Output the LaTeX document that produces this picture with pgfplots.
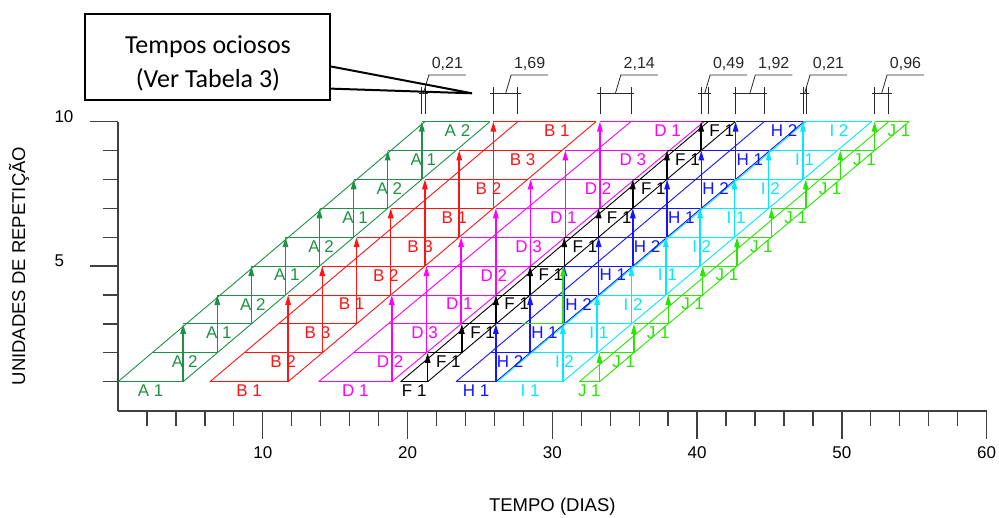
\documentclass[border=0pt]{standalone}
\usepackage{pgfplots}
\pgfplotsset{compat=1.18}
\usepackage{pgfplotstable}
\usepackage{fontspec}
\setmainfont{Liberation Sans}
\newfontfamily\calibri{Carlito}
\usetikzlibrary{arrows.meta}

\definecolor{cA}{RGB}{30,145,70}
\definecolor{cB}{RGB}{255,20,20}
\definecolor{cD}{RGB}{255,0,255}
\definecolor{cF}{RGB}{0,0,0}
\definecolor{cH}{RGB}{20,20,255}
\definecolor{cI}{RGB}{0,235,255}
\definecolor{cJ}{RGB}{40,230,0}
\definecolor{dimc}{RGB}{40,40,40}

\newcommand\labf{\fontsize{17}{20}\selectfont}
\newcommand\tickf{\fontsize{17}{20}\selectfont}
\newcommand\axf{\fontsize{18.5}{22}\selectfont}
\newcommand\dimf{\fontsize{16}{19}\selectfont}
\newcommand\boxf{\calibri\fontsize{26}{30}\selectfont}

% columns: y = unit level, h = start of bar line, w = length, m = label centre, c = crew
\pgfplotstableread{
y h w m c
1 0.00 4.50 2.25 1
2 2.36 4.50 4.61 2
3 4.50 4.71 6.96 1
4 6.86 4.71 9.32 2
5 9.21 4.71 11.67 1
6 11.57 4.71 14.03 2
7 13.92 4.71 16.38 1
8 16.28 4.71 18.74 2
9 18.63 4.71 21.09 1
10 20.99 4.71 23.45 2
}\tabA
\pgfplotstableread{
x y
4.50 1
6.86 2
9.21 3
11.57 4
13.92 5
16.28 6
18.63 7
20.99 8
}\arrA

\pgfplotstableread{
y h w m c
1 6.35 5.40 9.05 1
2 8.71 5.40 11.41 2
3 11.08 5.40 13.78 3
4 11.75 7.09 16.14 1
5 14.11 7.09 18.50 2
6 16.48 7.09 20.87 3
7 18.84 7.09 23.23 1
8 21.20 7.09 25.59 2
9 23.57 7.09 27.95 3
10 25.93 7.09 30.32 1
}\tabB
\pgfplotstableread{
x y
11.75 1
14.11 2
16.48 3
18.84 4
21.20 5
23.57 6
25.93 7
}\arrB

\pgfplotstableread{
y h w m c
1 13.86 5.05 16.39 1
2 16.26 5.05 18.79 2
3 18.65 5.05 21.18 3
4 18.91 7.19 23.58 1
5 21.31 7.19 25.97 2
6 23.70 7.19 28.37 3
7 26.10 7.19 30.77 1
8 28.50 7.19 33.17 2
9 30.90 7.19 35.56 3
10 33.29 7.19 37.96 1
}\tabD
\pgfplotstableread{
x y
18.91 1
21.31 2
23.70 3
26.10 4
28.50 5
30.90 6
33.29 7
}\arrD

\pgfplotstableread{
y h w m c
1 19.52 1.87 20.46 1
2 21.39 2.36 22.82 1
3 23.75 2.36 25.18 1
4 26.11 2.36 27.54 1
5 28.47 2.36 29.90 1
6 30.83 2.37 32.26 1
7 33.20 2.36 34.62 1
8 35.56 2.36 36.98 1
9 37.92 2.36 39.34 1
10 40.28 2.36 41.70 1
}\tabF
\pgfplotstableread{
x y
21.39 1
23.75 2
26.11 3
28.47 4
30.83 5
33.20 6
35.56 7
37.92 8
40.28 9
}\arrF

\pgfplotstableread{
y h w m c
1 23.35 2.75 24.73 1
2 25.72 2.75 27.09 2
3 26.10 4.73 29.46 1
4 28.47 4.73 31.82 2
5 30.83 4.73 34.19 1
6 33.20 4.73 36.55 2
7 35.56 4.73 38.92 1
8 37.93 4.73 41.28 2
9 40.29 4.73 43.65 1
10 42.66 4.73 46.01 2
}\tabH
\pgfplotstableread{
x y
26.10 1
28.47 2
30.83 3
33.20 4
35.56 5
37.93 6
40.29 7
42.66 8
}\arrH

\pgfplotstableread{
y h w m c
1 26.20 4.53 28.47 1
2 28.57 4.53 30.84 2
3 30.73 4.74 33.21 1
4 33.10 4.74 35.58 2
5 35.47 4.74 37.95 1
6 37.84 4.74 40.32 2
7 40.21 4.74 42.69 1
8 42.58 4.74 45.06 2
9 44.95 4.74 47.43 1
10 47.32 4.74 49.80 2
}\tabI
\pgfplotstableread{
x y
30.73 1
33.10 2
35.47 3
37.84 4
40.21 5
42.58 6
44.95 7
47.32 8
}\arrI

\pgfplotstableread{
y h w m c
1 31.86 1.40 32.56 1
2 33.26 2.38 34.94 1
3 35.64 2.37 37.31 1
4 38.01 2.38 39.69 1
5 40.39 2.37 42.06 1
6 42.76 2.38 44.44 1
7 45.14 2.37 46.81 1
8 47.51 2.38 49.19 1
9 49.89 2.37 51.56 1
10 52.26 2.38 53.94 1
}\tabJ
\pgfplotstableread{
x y
33.26 1
35.64 2
38.01 3
40.39 4
42.76 5
45.14 6
47.51 7
49.89 8
52.26 9
}\arrJ

% #1 colour, #2 table, #3 arrow table, #4 crews, #5 letter, #6 left diagonal, #7 right diagonal
\newcommand\activity[7]{%
  \addplot[#1, line width=1pt, quiver={u=\thisrow{w}, v=0}] table[x=h, y=y] {#2};
  \addplot[#1, line width=1.5pt, quiver={u=0, v=#4}, -{Triangle[length=10pt,width=5.5pt]}] table[x=x, y=y] {#3};
  \addplot[#1, line width=0.9pt] coordinates {#6};
  \addplot[#1, line width=0.9pt] coordinates {#7};
  \addplot[draw=none, nodes near coords={#5~\pgfplotspointmeta}, point meta=explicit symbolic,
    nodes near coords align=below,
    every node near coord/.append style={text=#1, font=\labf, inner sep=1.5pt, yshift=-1.5pt}]
    table[x=m, y=y, meta=c] {#2};
}

% #1 x1, #2 x2, #3 mid, #4 leader top, #5 underline end, #6 text centre, #7 text
\newcommand\dimn[7]{%
  \draw[dimc, line width=0.8pt] (axis cs:#1,10.27) -- (axis cs:#1,11.18);
  \draw[dimc, line width=0.8pt] (axis cs:#2,10.27) -- (axis cs:#2,11.18);
  \draw[dimc, line width=0.8pt] ([xshift=-3pt]axis cs:#1,10.98) -- ([xshift=3pt]axis cs:#2,10.98);
  \draw[dimc, line width=0.8pt] (axis cs:#3,10.98) -- (axis cs:#4,11.61) -- (axis cs:#5,11.61);
  \node[font=\dimf, text=dimc, anchor=base, yshift=6.6pt, inner sep=0pt] at (axis cs:#6,11.61) {#7};
}

\begin{document}
\begin{tikzpicture}
\path[use as bounding box] (-118pt,-106.4pt) rectangle (881pt,410.6pt);
\begin{axis}[
  x=14.477pt, y=28.9pt, xmin=0, xmax=60, ymin=0, ymax=10,
  axis x line=bottom, axis y line=left,
  axis line style={-, line width=1.8pt, black!75},
  clip=false,
  xtick={10,20,30,40,50,60}, xticklabels={10,20,30,40,50,60},
  minor xtick={2,4,...,58},
  ytick={5,10}, yticklabels={5,10}, minor ytick={1,2,3,4,6,7,8,9},
  tick align=outside, major tick length=28pt, minor tick length=15pt,
  every tick/.style={line width=1.3pt, black!75},
  xticklabel style={font=\tickf, anchor=center, yshift=-14.4pt},
  yticklabel style={font=\tickf, anchor=west, xshift=-39pt, yshift=5pt},
  xlabel={TEMPO (DIAS)}, ylabel={UNIDADES DE REPETIÇÃO},
  xlabel style={font=\axf, at={(axis description cs:0.5,-0.3336)}, anchor=center},
  ylabel style={font=\axf, at={(axis description cs:-0.114,0.5)}, anchor=center},
]
\activity{cA}{\tabA}{\arrA}{2}{A}{(0,1) (21.2,10)}{(4.5,1) (25.7,10)}
\activity{cB}{\tabB}{\arrB}{3}{B}{(6.35,1) (27.62,10)}{(11.75,1) (33.02,10)}
\activity{cD}{\tabD}{\arrD}{3}{D}{(13.86,1) (35.43,10)}{(18.91,1) (40.48,10)}
\activity{cF}{\tabF}{\arrF}{1}{F}{(19.52,1) (40.77,10)}{(21.39,1) (42.64,10)}
\activity{cH}{\tabH}{\arrH}{2}{H}{(23.35,1) (44.64,10)}{(26.10,1) (47.39,10)}
\activity{cI}{\tabI}{\arrI}{2}{I}{(26.20,1) (47.53,10)}{(30.73,1) (52.06,10)}
\activity{cJ}{\tabJ}{\arrJ}{1}{J}{(31.86,1) (53.24,10)}{(33.26,1) (54.64,10)}
% stray green segment
\addplot[cJ, line width=1pt] coordinates {(27.94,3) (30.75,3)};
\addplot[cJ, line width=1.5pt, quiver={u=0, v=2}, -{Triangle[length=10pt,width=5.5pt]}] coordinates {(30.75,3)};

\dimn{20.99}{21.20}{21.10}{21.47}{24.03}{22.75}{0,21}
\dimn{25.93}{27.62}{26.78}{27.15}{29.71}{28.43}{1,69}
\dimn{33.29}{35.43}{34.36}{34.73}{37.29}{36.01}{2,14}
\dimn{40.28}{40.77}{40.53}{40.90}{43.46}{42.18}{0,49}
\dimn{42.66}{44.64}{43.65}{44.02}{46.58}{45.30}{1,92}
\dimn{47.32}{47.53}{47.43}{47.80}{50.36}{49.08}{0,21}
\dimn{52.26}{53.24}{52.75}{53.12}{55.68}{54.40}{0,96}
\end{axis}
% callout box
\draw[line width=2.2pt, fill=white] (-33pt,310.6pt) rectangle (212pt,396.6pt);
\node[font=\boxf, anchor=base] at (90pt,357.2pt) {Tempos ociosos};
\node[font=\boxf, anchor=base] at (90pt,323.2pt) {(Ver Tabela 3)};
\draw[line width=2pt, line join=miter] (212pt,344.3pt) -- (354pt,317.3pt) -- (212pt,322pt);
\end{tikzpicture}
\end{document}
